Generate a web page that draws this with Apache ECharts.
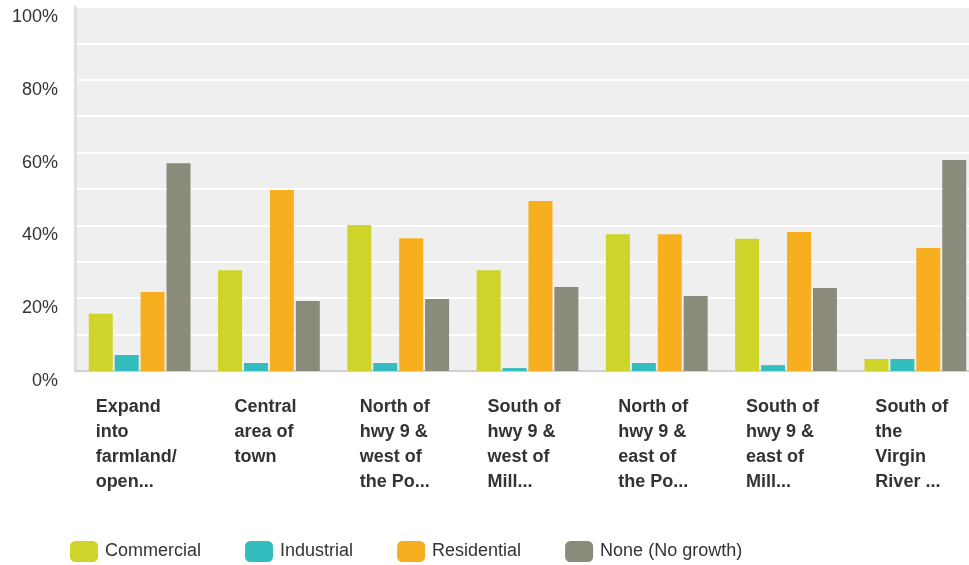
<!DOCTYPE html>
<html><head><meta charset="utf-8">
<script src="https://cdn.jsdelivr.net/npm/echarts@6/dist/echarts.min.js"></script>
<style>html,body{margin:0;padding:0;background:#fff}#c{width:969px;height:565px}</style>
</head><body><div id="c"></div>
<script>
const categories = [
  "Expand\ninto\nfarmland/\nopen...",
  "Central\narea of\ntown",
  "North of\nhwy 9 &\nwest of\nthe Po...",
  "South of\nhwy 9 &\nwest of\nMill...",
  "North of\nhwy 9 &\neast of\nthe Po...",
  "South of\nhwy 9 &\neast of\nMill...",
  "South of\nthe\nVirgin\nRiver ..."
];
const seriesNames = ["Commercial", "Industrial", "Residential", "None (No growth)"];
const commercial = [15.7, 27.7, 40.1, 27.7, 37.6, 36.3, 3.3];
const industrial = [4.4, 2.2, 2.2, 0.8, 2.2, 1.6, 3.3];
const residential = [21.7, 49.7, 36.5, 46.7, 37.6, 38.2, 33.8];
const noneGrowth = [57.1, 19.2, 19.8, 23.1, 20.6, 22.8, 58.0];
const colors = ["#cfd42a", "#33bdbf", "#f7af20", "#8b8b7b"];

const chart = echarts.init(document.getElementById('c'), null, {renderer: 'canvas'});
const font = "'Liberation Sans', Arial, sans-serif";
const dataSets = [commercial, industrial, residential, noneGrowth];
chart.setOption({
  animation: false,
  textStyle: {fontFamily: font},
  color: colors,
  grid: {left: 75, width: 905, top: 7, bottom: 194, show: true, backgroundColor: '#efefef', borderWidth: 0, outerBoundsMode: 'none', containLabel: false},
  legend: {
    left: 65, top: 536, itemWidth: 28, itemHeight: 21, itemGap: 44, icon: 'roundRect',
    textStyle: {fontSize: 18, color: '#333', fontFamily: font, padding: [0, 0, 0, 2]},
    data: seriesNames
  },
  xAxis: {
    type: 'category', data: categories,
    axisLine: {lineStyle: {color: '#d2d2d2', width: 2}},
    axisTick: {show: false},
    axisLabel: {
      interval: 0, margin: 24,
      formatter: v => v.split('\n').map(s => '{a|' + s + '}').join('\n'),
      rich: {a: {align: 'left', fontSize: 18, fontWeight: 'bold', color: '#333', lineHeight: 25, padding: [0, 7, 0, 0], fontFamily: font}}
    }
  },
  yAxis: {
    type: 'value', min: 0, max: 100, interval: 20,
    axisLine: {show: true, lineStyle: {color: '#e0e0e0', width: 3}},
    axisTick: {show: false},
    axisLabel: {formatter: '{value}%', fontSize: 18, color: '#333', margin: 17, verticalAlign: 'top', lineHeight: 20, fontFamily: font},
    splitLine: {lineStyle: {color: '#ffffff', width: 2}},
    minorTick: {show: false, splitNumber: 2},
    minorSplitLine: {show: true, lineStyle: {color: '#ffffff', width: 2}}
  },
  series: seriesNames.map((n, i) => ({
    name: n, type: 'bar', data: dataSets[i], barWidth: 24, barGap: '8%',
    itemStyle: {color: colors[i]}
  }))
});
</script></body></html>
